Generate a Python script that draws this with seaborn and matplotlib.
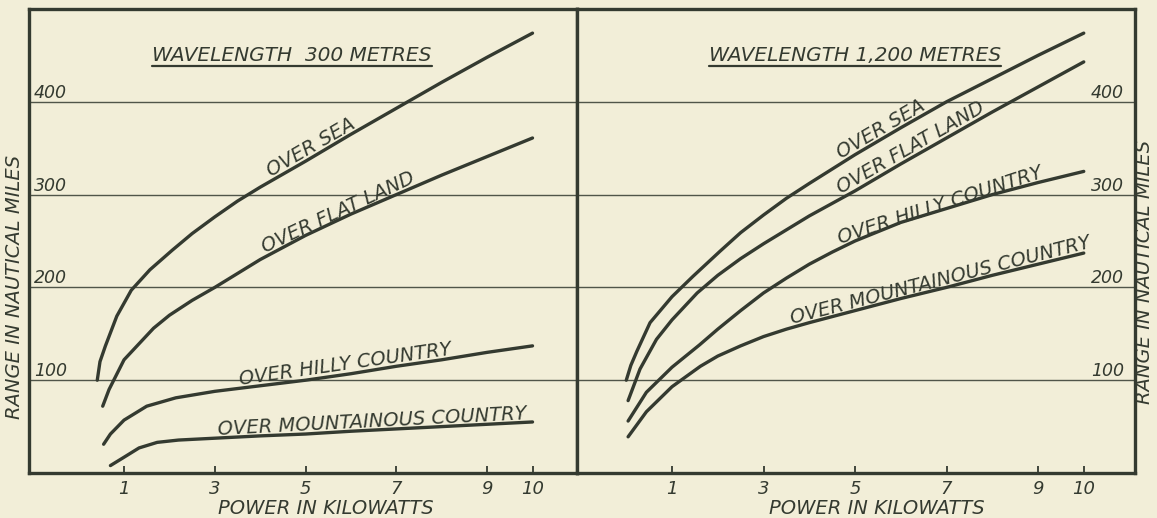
import numpy as np
import pandas as pd
import matplotlib
matplotlib.use("Agg")
import matplotlib.pyplot as plt
import seaborn as sns
from matplotlib.lines import Line2D

# ---------------- data ----------------
series_names = ["OVER SEA", "OVER FLAT LAND", "OVER HILLY COUNTRY", "OVER MOUNTAINOUS COUNTRY"]
titles = ["WAVELENGTH  300 METRES", "WAVELENGTH 1,200 METRES"]
x_label = "POWER IN KILOWATTS"
y_label = "RANGE IN NAUTICAL MILES"
x_tick_values = [1, 3, 5, 7, 9, 10]
x_tick_labels = ["1", "3", "5", "7", "9", "10"]
x_grid_values = [1, 3, 5, 7, 9]
y_tick_values = [100, 200, 300, 400]
y_tick_labels = ["100", "200", "300", "400"]

# Wavelength 300 metres
sea300_kw = [0.41, 0.47, 0.59, 0.84, 1.16, 1.57, 2.06, 2.5, 3.0, 3.5, 4.0, 4.5, 5.0, 6.0, 7.0, 8.0, 9.0, 10.0]
sea300_nm = [100, 120, 137, 169, 197, 219, 240, 258, 276, 293, 308, 322, 336, 365, 393, 421, 448, 474]
flat300_kw = [0.53, 0.67, 1.0, 1.65, 2.0, 2.5, 3.0, 3.5, 4.0, 4.5, 5.0, 6.0, 7.0, 8.0, 9.0, 10.0]
flat300_nm = [72, 90, 122, 156, 170, 186, 200, 215, 230, 243, 256, 279, 300, 321, 341, 361]
hilly300_kw = [0.55, 0.7, 1.0, 1.5, 2.14, 3.0, 4.0, 5.0, 6.0, 7.0, 8.0, 9.0, 10.0]
hilly300_nm = [31, 42, 57, 72, 81, 88, 94, 100, 107, 115, 122, 130, 137]
mount300_kw = [0.70, 1.0, 1.33, 1.73, 2.2, 3.0, 4.0, 5.0, 6.0, 7.0, 8.0, 9.0, 10.0]
mount300_nm = [8, 17, 27, 33, 35.5, 37.5, 40, 42, 45, 47.5, 50, 52.5, 55]

# Wavelength 1,200 metres
sea1200_kw = [0.0, 0.1, 0.23, 0.52, 1.0, 1.46, 2.05, 2.5, 3.0, 3.5, 4.0, 5.0, 6.0, 7.0, 8.0, 9.0, 10.0]
sea1200_nm = [100, 116, 131, 162, 190, 212, 239, 259, 278, 296, 312, 343, 372, 400, 425, 450, 474]
flat1200_kw = [0.04, 0.3, 0.66, 1.0, 1.55, 2.0, 2.5, 3.0, 3.5, 4.0, 5.0, 6.0, 7.0, 8.0, 9.0, 10.0]
flat1200_nm = [78, 112, 144, 165, 194, 213, 231, 247, 262, 277, 304, 333, 361, 389, 416, 443]
hilly1200_kw = [0.04, 0.44, 1.0, 1.6, 2.0, 2.5, 3.0, 3.5, 4.0, 4.5, 5.0, 6.0, 7.0, 8.0, 9.0, 10.0]
hilly1200_nm = [56, 87, 114, 138, 155, 175, 194, 210, 225, 238, 250, 270, 285, 300, 313, 325]
mount1200_kw = [0.04, 0.44, 1.0, 1.62, 2.0, 2.5, 3.0, 3.5, 4.0, 5.0, 6.0, 7.0, 8.0, 9.0, 10.0]
mount1200_nm = [39, 66, 93, 115, 126, 137, 147, 155, 162, 175, 188, 200, 213, 225, 237]

panel300 = [(sea300_kw, sea300_nm), (flat300_kw, flat300_nm),
            (hilly300_kw, hilly300_nm), (mount300_kw, mount300_nm)]
panel1200 = [(sea1200_kw, sea1200_nm), (flat1200_kw, flat1200_nm),
             (hilly1200_kw, hilly1200_nm), (mount1200_kw, mount1200_nm)]

# label spans along each curve (start kW, end kW)
spans300 = [(4.27, 6.9), (4.14, 7.24), (3.57, 8.5), (3.08, 9.9)]
spans1200 = [(4.74, 6.83), (4.74, 7.9), (4.7, 9.2), (3.64, 10.0)]

# ---------------- style ----------------
paper = "#f2eed8"
ink = "#343a30"
sns.set_theme(style="white")
plt.rcParams["font.family"] = ["DejaVu Sans"]
plt.rcParams["text.color"] = ink
plt.rcParams["axes.labelcolor"] = ink
plt.rcParams["xtick.color"] = ink
plt.rcParams["ytick.color"] = ink

W, H = 1157, 518
fig = plt.figure(figsize=(W / 100, H / 100), dpi=100)
fig.patch.set_facecolor(paper)

top_px, bot_px = 9, 473
axL = fig.add_axes([29 / W, (H - bot_px) / H, (577 - 29) / W, (bot_px - top_px) / H])
axR = fig.add_axes([577 / W, (H - bot_px) / H, (1135 - 577) / W, (bot_px - top_px) / H])


def to_df(panel):
    rows = []
    for name, (kw, nm) in zip(series_names, panel):
        for a, b in zip(kw, nm):
            rows.append({"series": name, "kW": a, "miles": b})
    return pd.DataFrame(rows)


for ax, panel in ((axL, panel300), (axR, panel1200)):
    sns.lineplot(data=to_df(panel), x="kW", y="miles", units="series",
                 estimator=None, sort=False, color=ink, lw=2.4, ax=ax,
                 solid_capstyle="round", solid_joinstyle="round", legend=False)


def setup(ax, xlim, side):
    ax.set_facecolor(paper)
    ax.set_xlim(*xlim)
    ax.set_ylim(0, 500)
    for s in ax.spines.values():
        s.set_visible(True)
        s.set_color(ink)
        s.set_linewidth(2.4)
    ax.set_xticks(x_tick_values)
    ax.set_xticklabels(x_tick_labels, fontstyle="italic", fontsize=13)
    ax.set_xticks(x_grid_values, minor=True)
    ax.tick_params(axis="x", which="major", direction="in", length=5, width=1.3,
                   pad=5, bottom=True, top=False)
    ax.tick_params(axis="x", which="minor", length=0)
    ax.grid(False)
    ax.grid(True, which="minor", axis="x", color=ink, lw=1.0, alpha=0.85)
    ax.grid(True, which="major", axis="y", color=ink, lw=1.0, alpha=0.85)
    ax.set_yticks(y_tick_values)
    if side == "left":
        ax.yaxis.tick_left()
        ax.tick_params(axis="y", direction="in", length=0, pad=-3.5,
                       labelleft=True, labelright=False)
        ax.set_yticklabels(y_tick_labels, ha="left", va="bottom",
                           fontstyle="italic", fontsize=12.5)
    else:
        ax.yaxis.tick_right()
        ax.tick_params(axis="y", direction="in", length=0, pad=-8,
                       labelleft=False, labelright=True)
        ax.set_yticklabels(y_tick_labels, ha="right", va="bottom",
                           fontstyle="italic", fontsize=12.5)
    ax.set_xlabel(x_label, fontstyle="italic", fontsize=14)
    ax.set_ylabel(y_label, fontstyle="italic", fontsize=14)


setup(axL, (-1.094, 10.98), "left")
setup(axR, (-1.077, 11.12), "right")
axR.yaxis.set_label_position("right")
span_h = bot_px - top_px
axL.xaxis.set_label_coords(0.542, (bot_px - 509) / span_h)
axR.xaxis.set_label_coords(0.538, (bot_px - 509) / span_h)
axL.yaxis.set_label_coords((15 - 29) / 548, (bot_px - 287) / span_h)
axR.yaxis.set_label_coords((1145 - 577) / 558, (bot_px - 272) / span_h)
for ax in (axL, axR):
    ax.xaxis.label.set_va("center")
    ax.yaxis.label.set_rotation(90)
    ax.yaxis.label.set_rotation_mode("anchor")
    ax.yaxis.label.set_va("center")
    ax.yaxis.label.set_ha("center")


def label_on_line(ax, kw, nm, x0, x1, text, off=2.5):
    p0 = ax.transData.transform((x0, np.interp(x0, kw, nm)))
    p1 = ax.transData.transform((x1, np.interp(x1, kw, nm)))
    ang = np.degrees(np.arctan2(p1[1] - p0[1], p1[0] - p0[0]))
    t = np.radians(ang)
    y0 = np.interp(x0, kw, nm)
    ax.annotate(text, xy=(x0, y0), xytext=(-np.sin(t) * off, np.cos(t) * off),
                textcoords="offset points", rotation=ang, rotation_mode="anchor",
                ha="left", va="baseline", fontstyle="italic", fontsize=14,
                color=ink)


for ax, panel, spans in ((axL, panel300, spans300), (axR, panel1200, spans1200)):
    for name, (kw, nm), (x0, x1) in zip(series_names, panel, spans):
        label_on_line(ax, kw, nm, x0, x1, name)

tL = axL.text(4.7, 444, titles[0], ha="center", va="baseline",
              fontstyle="italic", fontsize=14.5, color=ink)
tR = axR.text(5.0, 444, titles[1], ha="center", va="baseline",
              fontstyle="italic", fontsize=14.5, color=ink)

# underline the titles
fig.canvas.draw()
renderer = fig.canvas.get_renderer()
inv = fig.transFigure.inverted()
for t in (tL, tR):
    bb = t.get_window_extent(renderer)
    yline = bb.y0 - 1
    (fx0, fy), (fx1, _) = inv.transform([(bb.x0, yline), (bb.x1, yline)])
    fig.add_artist(Line2D([fx0, fx1], [fy, fy], color=ink, lw=1.6,
                          transform=fig.transFigure))

fig.savefig("out.png", dpi=100, facecolor=paper)
